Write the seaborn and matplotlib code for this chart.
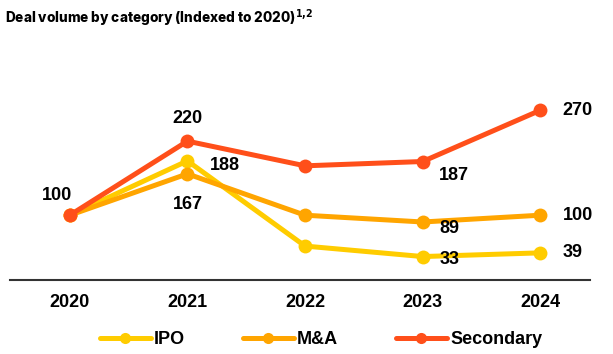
import pandas as pd
import matplotlib.pyplot as plt
import seaborn as sns

# ===== data (index, 2020 = 100) =====
years = ["2020", "2021", "2022", "2023", "2024"]
ipo = [100, 188, 50, 33, 39]
mna = [100, 167, 100, 89, 100]
secondary = [100, 220, 180, 187, 270]
series_names = ["IPO", "M&A", "Secondary"]

COLORS = {"IPO": "#FFCC00", "M&A": "#FFA500", "Secondary": "#FF4F1A"}

sns.set_style("white")
plt.rcParams["font.family"] = ["Liberation Sans", "DejaVu Sans"]
plt.rcParams["text.color"] = "black"
plt.rcParams["xtick.color"] = "black"

df = pd.DataFrame({
    "year": years * 3,
    "value": ipo + mna + secondary,
    "series": [s for s in series_names for _ in years],
})
df["x"] = df["year"].map({y: i for i, y in enumerate(years)})

fig = plt.figure(figsize=(6.13, 3.54), dpi=100)
ax = fig.add_axes([0.016, 0.209, 0.946, 0.68])

sns.lineplot(data=df, x="x", y="value", hue="series", palette=COLORS,
             hue_order=series_names, marker="o", markersize=10,
             markeredgewidth=0, linewidth=3.6, ax=ax, legend=True)

ax.set_xlim(-0.51, 4.42)
ax.set_ylim(-5, 385)
ax.set_xticks(range(len(years)))
ax.set_xticklabels(years, fontsize=13, fontweight="bold")
ax.tick_params(axis="x", length=0, pad=10)
ax.set_yticks([])
ax.set_xlabel("")
ax.set_ylabel("")
for s in ["top", "left", "right"]:
    ax.spines[s].set_visible(False)
ax.spines["bottom"].set_color("#333333")
ax.spines["bottom"].set_linewidth(1.5)

# value labels: (series, index, dx pts, dy pts, ha)
vals = {"IPO": ipo, "M&A": mna, "Secondary": secondary}
labels = [
    ("Secondary", 0, -9, 14, "center"),
    ("Secondary", 1, 0, 16, "center"),
    ("IPO", 1, 16, -3, "left"),
    ("M&A", 1, 0, -22, "center"),
    ("Secondary", 3, 12, -10, "left"),
    ("M&A", 3, 12, -5, "left"),
    ("IPO", 3, 12, -2, "left"),
    ("Secondary", 4, 16, 0, "left"),
    ("M&A", 4, 16, 0, "left"),
    ("IPO", 4, 16, 0, "left"),
]
for name, i, dx, dy, ha in labels:
    v = vals[name][i]
    ax.annotate(f"{v}", (i, v), xytext=(dx, dy), textcoords="offset points",
                ha=ha, va="center", fontsize=13, fontweight="bold")

leg = ax.legend(loc="upper center", bbox_to_anchor=(0.537, -0.145), ncol=3,
                frameon=False, fontsize=13, handlelength=2.8, columnspacing=3.2,
                handletextpad=0.2)
for t in leg.get_texts():
    t.set_fontweight("bold")
for h in leg.legend_handles:
    h.set_markersize(8)

fig.text(0.008, 0.935, "Deal volume by category (Indexed to 2020)$^{\\mathbf{1{,}2}}$",
         fontsize=9.8, fontweight="heavy", family=["Inter", "DejaVu Sans"])

fig.savefig("out.png", dpi=100)
